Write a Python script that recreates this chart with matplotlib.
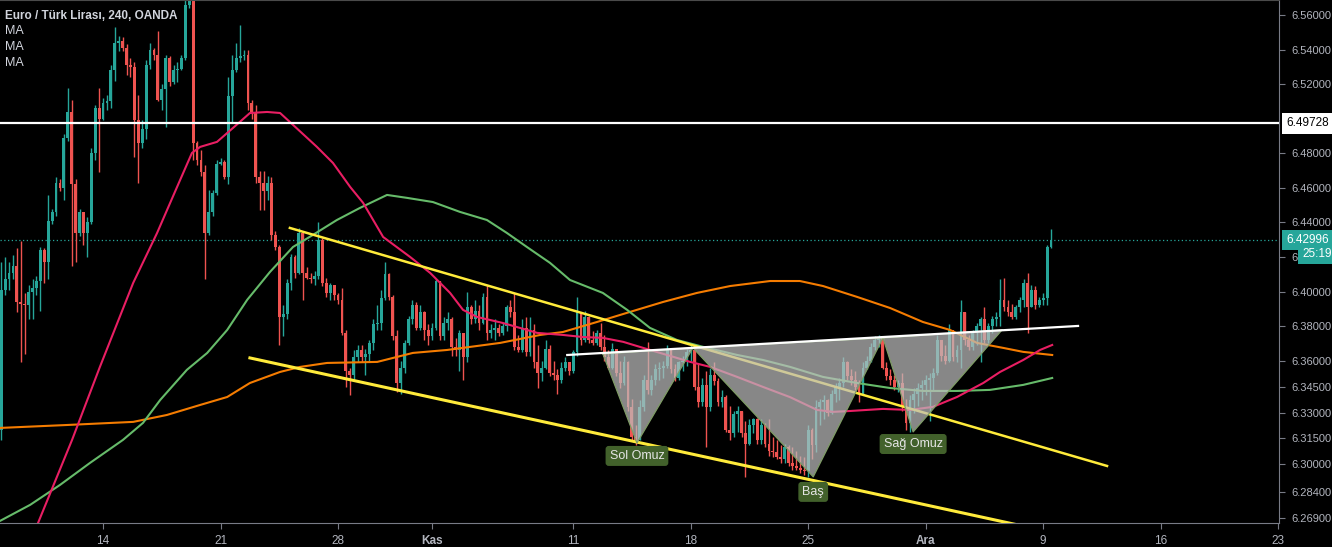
import matplotlib
matplotlib.use('Agg')
import matplotlib.pyplot as plt
from matplotlib.patches import Polygon
import numpy as np

plt.rcParams['font.family'] = ['Liberation Sans', 'DejaVu Sans']

# ---------------------------------------------------------------------------
# EUR/TRY 4H candles (index 0 = 14 Oct, 30 candles per week)
# ---------------------------------------------------------------------------
first_index = -26
first_open = 6.320

closes = [
    6.401, 6.407, 6.411, 6.415, 6.394, 6.393, 6.392, 6.400, 6.402, 6.406,
    6.424, 6.417, 6.441, 6.446, 6.463, 6.460, 6.489, 6.504, 6.462, 6.434,
    6.446, 6.434, 6.440, 6.480, 6.506, 6.500, 6.509, 6.510, 6.528, 6.544,
    6.545, 6.541, 6.531, 6.530, 6.499, 6.486, 6.494, 6.531, 6.540, 6.537,
    6.511, 6.517, 6.535, 6.521, 6.528, 6.529, 6.535, 6.566, 6.574, 6.486,
    6.476, 6.469, 6.434, 6.446, 6.457, 6.474, 6.475, 6.466, 6.513, 6.528,
    6.535, 6.536, 6.537, 6.509, 6.504, 6.466, 6.463, 6.458, 6.463, 6.433,
    6.426, 6.385, 6.387, 6.405, 6.420, 6.411, 6.434, 6.411, 6.408, 6.407,
    6.409, 6.430, 6.405, 6.399, 6.404, 6.398, 6.395, 6.376, 6.354, 6.352,
    6.362, 6.366, 6.362, 6.364, 6.370, 6.381, 6.382, 6.396, 6.410, 6.397,
    6.374, 6.347, 6.356, 6.370, 6.384, 6.392, 6.379, 6.388, 6.378, 6.374,
    6.379, 6.406, 6.374, 6.382, 6.384, 6.368, 6.366, 6.376, 6.362, 6.391,
    6.384, 6.389, 6.382, 6.397, 6.376, 6.378, 6.379, 6.376, 6.380, 6.391,
    6.388, 6.368, 6.366, 6.379, 6.365, 6.378, 6.359, 6.353, 6.356, 6.367,
    6.353, 6.352, 6.349, 6.356, 6.359, 6.354, 6.365, 6.388, 6.372, 6.385,
    6.372, 6.370, 6.376, 6.368, 6.362, 6.356, 6.367, 6.353, 6.347, 6.359,
    6.333, 6.316, 6.314, 6.333, 6.349, 6.343, 6.349, 6.355, 6.356, 6.357,
    6.366, 6.355, 6.350, 6.359, 6.360, 6.365, 6.366, 6.345, 6.336, 6.346,
    6.333, 6.352, 6.348, 6.336, 6.339, 6.320, 6.318, 6.329, 6.331, 6.318,
    6.312, 6.323, 6.326, 6.314, 6.323, 6.312, 6.308, 6.307, 6.304, 6.303,
    6.310, 6.301, 6.299, 6.298, 6.297, 6.296, 6.320, 6.311, 6.333, 6.336,
    6.337, 6.330, 6.341, 6.345, 6.347, 6.359, 6.351, 6.349, 6.345, 6.341,
    6.356, 6.360, 6.368, 6.372, 6.373, 6.356, 6.351, 6.349, 6.345, 6.347,
    6.333, 6.324, 6.337, 6.341, 6.344, 6.346, 6.349, 6.350, 6.353, 6.372,
    6.363, 6.360, 6.378, 6.362, 6.366, 6.388, 6.372, 6.368, 6.376, 6.380,
    6.384, 6.372, 6.380, 6.384, 6.385, 6.395, 6.391, 6.388, 6.385, 6.391,
    6.395, 6.405, 6.391, 6.401, 6.392, 6.395, 6.396, 6.426, 6.42996,
]

highs = [
    6.417, 6.420, 6.417, 6.421, 6.425, 6.429, 6.399, 6.404, 6.407, 6.409,
    6.426, 6.425, 6.456, 6.448, 6.466, 6.465, 6.491, 6.518, 6.511, 6.465,
    6.448, 6.444, 6.443, 6.483, 6.508, 6.518, 6.512, 6.514, 6.531, 6.553,
    6.548, 6.547, 6.543, 6.535, 6.533, 6.514, 6.499, 6.534, 6.544, 6.541,
    6.551, 6.520, 6.537, 6.536, 6.531, 6.533, 6.537, 6.574, 6.586, 6.576,
    6.487, 6.482, 6.473, 6.459, 6.459, 6.476, 6.477, 6.476, 6.524, 6.537,
    6.544, 6.554, 6.540, 6.540, 6.511, 6.508, 6.470, 6.470, 6.467, 6.466,
    6.435, 6.427, 6.392, 6.407, 6.422, 6.421, 6.437, 6.430, 6.414, 6.411,
    6.412, 6.440, 6.431, 6.408, 6.405, 6.404, 6.399, 6.402, 6.378, 6.356,
    6.366, 6.369, 6.369, 6.367, 6.372, 6.384, 6.392, 6.401, 6.417, 6.411,
    6.398, 6.378, 6.360, 6.372, 6.386, 6.395, 6.394, 6.392, 6.389, 6.381,
    6.382, 6.407, 6.406, 6.385, 6.388, 6.385, 6.373, 6.378, 6.376, 6.400,
    6.392, 6.395, 6.392, 6.399, 6.404, 6.381, 6.384, 6.381, 6.382, 6.392,
    6.395, 6.399, 6.375, 6.384, 6.385, 6.385, 6.381, 6.369, 6.360, 6.372,
    6.369, 6.360, 6.355, 6.359, 6.362, 6.359, 6.366, 6.397, 6.388, 6.389,
    6.386, 6.377, 6.378, 6.382, 6.375, 6.366, 6.370, 6.367, 6.360, 6.363,
    6.360, 6.338, 6.323, 6.337, 6.352, 6.371, 6.352, 6.358, 6.359, 6.360,
    6.369, 6.367, 6.358, 6.360, 6.363, 6.367, 6.369, 6.367, 6.358, 6.350,
    6.354, 6.356, 6.359, 6.350, 6.343, 6.340, 6.334, 6.331, 6.334, 6.329,
    6.325, 6.326, 6.327, 6.327, 6.326, 6.324, 6.326, 6.316, 6.314, 6.311,
    6.312, 6.311, 6.310, 6.308, 6.305, 6.304, 6.323, 6.321, 6.337, 6.338,
    6.340, 6.338, 6.343, 6.347, 6.350, 6.362, 6.360, 6.355, 6.354, 6.349,
    6.359, 6.363, 6.370, 6.374, 6.375, 6.374, 6.359, 6.355, 6.352, 6.349,
    6.353, 6.338, 6.340, 6.344, 6.347, 6.349, 6.352, 6.353, 6.356, 6.375,
    6.372, 6.369, 6.381, 6.377, 6.369, 6.395, 6.388, 6.375, 6.378, 6.382,
    6.385, 6.391, 6.382, 6.386, 6.388, 6.407, 6.408, 6.395, 6.393, 6.392,
    6.397, 6.407, 6.411, 6.404, 6.403, 6.397, 6.399, 6.427, 6.436,
]

lows = [
    6.314, 6.398, 6.401, 6.407, 6.388, 6.359, 6.364, 6.384, 6.384, 6.398,
    6.389, 6.405, 6.407, 6.439, 6.444, 6.458, 6.453, 6.487, 6.415, 6.417,
    6.432, 6.427, 6.420, 6.439, 6.476, 6.469, 6.499, 6.505, 6.506, 6.522,
    6.539, 6.539, 6.525, 6.524, 6.478, 6.463, 6.483, 6.488, 6.529, 6.534,
    6.510, 6.505, 6.495, 6.519, 6.520, 6.521, 6.528, 6.534, 6.564, 6.476,
    6.473, 6.467, 6.407, 6.433, 6.444, 6.456, 6.473, 6.465, 6.462, 6.498,
    6.527, 6.533, 6.534, 6.505, 6.500, 6.463, 6.447, 6.447, 6.453, 6.430,
    6.424, 6.369, 6.374, 6.384, 6.401, 6.408, 6.410, 6.395, 6.407, 6.405,
    6.404, 6.407, 6.403, 6.397, 6.395, 6.395, 6.393, 6.375, 6.345, 6.340,
    6.349, 6.359, 6.359, 6.352, 6.360, 6.366, 6.378, 6.378, 6.395, 6.395,
    6.372, 6.342, 6.341, 6.353, 6.369, 6.381, 6.378, 6.378, 6.372, 6.369,
    6.372, 6.378, 6.372, 6.372, 6.378, 6.363, 6.363, 6.354, 6.349, 6.359,
    6.381, 6.382, 6.378, 6.381, 6.372, 6.373, 6.372, 6.374, 6.375, 6.377,
    6.385, 6.366, 6.365, 6.365, 6.363, 6.363, 6.356, 6.344, 6.348, 6.355,
    6.351, 6.349, 6.341, 6.347, 6.354, 6.352, 6.353, 6.363, 6.369, 6.371,
    6.370, 6.369, 6.369, 6.366, 6.360, 6.355, 6.355, 6.351, 6.344, 6.346,
    6.331, 6.314, 6.311, 6.314, 6.331, 6.341, 6.340, 6.346, 6.349, 6.350,
    6.356, 6.353, 6.348, 6.349, 6.354, 6.357, 6.360, 6.343, 6.333, 6.334,
    6.310, 6.331, 6.346, 6.334, 6.333, 6.319, 6.314, 6.316, 6.319, 6.316,
    6.293, 6.311, 6.318, 6.312, 6.312, 6.310, 6.305, 6.304, 6.303, 6.301,
    6.301, 6.299, 6.297, 6.297, 6.295, 6.294, 6.293, 6.303, 6.307, 6.323,
    6.326, 6.328, 6.329, 6.336, 6.337, 6.345, 6.349, 6.346, 6.343, 6.336,
    6.340, 6.355, 6.359, 6.366, 6.368, 6.355, 6.349, 6.346, 6.343, 6.342,
    6.331, 6.320, 6.319, 6.330, 6.334, 6.337, 6.340, 6.325, 6.343, 6.352,
    6.360, 6.358, 6.359, 6.360, 6.359, 6.356, 6.369, 6.366, 6.366, 6.369,
    6.359, 6.370, 6.370, 6.376, 6.380, 6.380, 6.389, 6.386, 6.384, 6.384,
    6.388, 6.391, 6.376, 6.391, 6.390, 6.391, 6.392, 6.392, 6.425,
]

# moving averages (candle index, price)
ma_fast_idx = [-17.1, -7.9, -0.8, 7.7, 13.8, 18.9, 22.7, 24.8, 29.1, 33.2, 37.5, 41.9, 45.2,
               47.7, 54.6, 58.7, 63.1, 66.4, 71.5, 78.4, 83.5, 88.6, 91.9, 95.5, 102.1,
               110.8, 117.4, 122.5, 127.6, 132.8, 137.9, 144.0, 149.9, 155.0, 161.9,
               168.5, 175.4, 182.3, 186.4, 190.7, 199.1, 206.0, 211.9, 218.0, 224.7,
               229.0, 234.9, 239.2, 242.3]
ma_fast = [6.2633, 6.3142, 6.3564, 6.4050, 6.4339, 6.4605, 6.4802, 6.4837, 6.4866, 6.4947,
           6.5033, 6.5039, 6.5033, 6.4981, 6.4837, 6.4744, 6.4605, 6.4513, 6.4316, 6.4200,
           6.4108, 6.3992, 6.3894, 6.3853, 6.3818, 6.3761, 6.3749, 6.3737, 6.3732, 6.3709,
           6.3674, 6.3633, 6.3593, 6.3564, 6.3506, 6.3448, 6.3389, 6.3315, 6.3304, 6.3309,
           6.3321, 6.3315, 6.3333, 6.3390, 6.3471, 6.3535, 6.3604, 6.3662, 6.3691]

ma_mid_idx = [-26.3, -18.6, -11.0, -3.3, 5.1, 10.2, 14.6, 21.4, 26.6, 31.7, 36.8, 42.6,
              48.5, 53.6, 59.7, 65.6, 72.5, 77.6, 84.2, 91.1, 98.0, 103.1, 108.2, 114.1,
              119.2, 127.6, 133.8, 139.6, 146.5, 153.2, 161.9, 168.5, 175.4, 183.8, 192.5,
              200.9, 209.3, 218.0, 226.4, 234.9, 242.3]
ma_mid = [6.2673, 6.2766, 6.2881, 6.3009, 6.3142, 6.3240, 6.3373, 6.3547, 6.3645, 6.3778,
          6.3952, 6.4113, 6.4258, 6.4328, 6.4414, 6.4484, 6.4559, 6.4542, 6.4518, 6.4461,
          6.4414, 6.4339, 6.4258, 6.4166, 6.4067, 6.3992, 6.3894, 6.3790, 6.3720, 6.3680,
          6.3633, 6.3604, 6.3564, 6.3506, 6.3471, 6.3442, 6.3425, 6.3425, 6.3431, 6.3460,
          6.3500]

ma_slow_idx = [-26.3, -9.2, 7.7, 16.3, 24.8, 31.7, 37.5, 45.2, 50.3, 57.2, 70.0, 79.1,
               87.8, 101.4, 111.6, 117.4, 126.1, 134.5, 143.0, 151.6, 160.1, 170.3, 177.9,
               183.8, 192.5, 200.9, 209.3, 216.2, 223.1, 229.8, 234.9, 242.3]
ma_slow = [6.3211, 6.3228, 6.3246, 6.3286, 6.3344, 6.3390, 6.3471, 6.3535, 6.3564, 6.3587,
           6.3593, 6.3645, 6.3662, 6.3703, 6.3749, 6.3766, 6.3824, 6.3882, 6.3940, 6.3992,
           6.4032, 6.4061, 6.4061, 6.4032, 6.3969, 6.3905, 6.3824, 6.3778, 6.3703, 6.3674,
           6.3651, 6.3633]

# drawings
channel_upper = ([47.7, 256.3], [6.4368, 6.2991])
channel_lower = ([37.5, 234.1], [6.3616, 6.2647])
neckline = ([118.5, 248.9], [6.3633, 6.3801])
resistance = 6.49728
last_price = 6.42996
countdown = '25:19'

hs_idx = [127.6, 136.3, 150.6, 181.3, 199.1, 206.8, 229.5]
hs_price = [6.3639, 6.3124, 6.3674, 6.2928, 6.3732, 6.3188, 6.3778]
hs_labels = [('Sol Omuz', 136.3, 6.3049), ('Baş', 181.3, 6.2841), ('Sağ Omuz', 206.8, 6.3118)]

tick_pos = [0, 30, 60, 84, 120, 150, 180, 210, 240, 270, 300]
tick_lab = ['14', '21', '28', 'Kas', '11', '18', '25', 'Ara', '9', '16', '23']
price_ticks = [6.56, 6.54, 6.52, 6.48, 6.46, 6.44, 6.42, 6.40, 6.38, 6.36,
               6.345, 6.33, 6.315, 6.30, 6.284, 6.269]

# ---------------------------------------------------------------------------
UP = '#26a69a'
DOWN = '#ef5350'
AXIS = '#787b86'
TXT = '#b2b5be'

fig = plt.figure(figsize=(13.32, 5.47), dpi=100, facecolor='black')
ax = fig.add_axes([0, 24 / 547, 1279 / 1332, 523 / 547])
ax.set_facecolor('black')
ax.set_xlim(-26.3, 300.2)
ax.set_ylim(6.2661, 6.56868)

c = np.array(closes)
h = np.array(highs)
l = np.array(lows)
o = np.array([first_open] + closes[:-1])
x = np.arange(first_index, first_index + len(c))
up = c >= o
cols = np.where(up, UP, DOWN)

ax.vlines(x, np.minimum(l, np.minimum(o, c)), np.maximum(h, np.maximum(o, c)),
          colors=cols, linewidth=1, zorder=2)
body_h = np.maximum(np.abs(c - o), 0.0004)
ax.bar(x, body_h, bottom=np.minimum(o, c), width=0.72, color=cols, linewidth=0, zorder=2)

# last price dotted line
ax.axhline(last_price, color=UP, lw=0.9, ls=(0, (1, 2)), zorder=1.5)

# moving averages
ax.plot(ma_slow_idx, ma_slow, color='#f57c00', lw=1.5, zorder=3)
ax.plot(ma_mid_idx, ma_mid, color='#66bb6a', lw=1.5, zorder=3)
ax.plot(ma_fast_idx, ma_fast, color='#e91e63', lw=1.5, zorder=3)

# horizontal resistance
ax.axhline(resistance, color='white', lw=1.6, zorder=3.5)

# channel
ax.plot(*channel_upper, color='#ffeb3b', lw=1.8, zorder=4)
ax.plot(*channel_lower, color='#ffeb3b', lw=2.2, zorder=4)

# inverse head & shoulders
for k in (0, 2, 4):
    tri = Polygon(list(zip(hs_idx[k:k + 3], hs_price[k:k + 3])), closed=True,
                  facecolor='#bdbdbd', alpha=0.72, edgecolor='none', zorder=5)
    ax.add_patch(tri)
ax.plot(hs_idx, hs_price, color='#7f9c66', lw=0.9, zorder=5.5)
ax.plot(hs_idx[::2], hs_price[::2], color='#a9c296', lw=0.9, zorder=5.5)
ax.plot(*neckline, color='white', lw=1.6, zorder=5.6)

for txt, xi, yi in hs_labels:
    ax.text(xi, yi, txt, ha='center', va='center', fontsize=9, color='#e6e6e6', zorder=7,
            bbox=dict(boxstyle='round,pad=0.32,rounding_size=0.25', fc='#42612b', ec='none'))

# axes styling
ax.spines['left'].set_visible(False)
ax.spines['top'].set_color('#4a4a4a')
ax.spines['right'].set_color(AXIS)
ax.spines['bottom'].set_color(AXIS)

ax.yaxis.tick_right()
ax.set_yticks(price_ticks)
# 6.42000 is mostly hidden behind the countdown tag, only its leading "6" shows
ax.set_yticklabels(['6' if v == 6.42 else f'{v:.5f}' for v in price_ticks])
ax.tick_params(axis='y', colors=AXIS, labelcolor=TXT, labelsize=8, length=4, pad=5)
ax.set_xticks(tick_pos)
ax.set_xticklabels(tick_lab)
ax.tick_params(axis='x', colors=AXIS, labelcolor=TXT, labelsize=8.5, length=4, pad=5)
for lab in ax.get_xticklabels():
    if lab.get_text() in ('Kas', 'Ara'):
        lab.set_fontweight('bold')

# price scale tags
ytr = ax.get_yaxis_transform()
ax.text(1.0 + 7 / 1279, resistance, f'{resistance:.5f}', transform=ytr, ha='left', va='center',
        fontsize=8.5, color='black', clip_on=False, zorder=10,
        bbox=dict(boxstyle='square,pad=0.35', fc='white', ec='none'))
ax.text(1.0 + 7 / 1279, last_price, f'{last_price:.5f}', transform=ytr, ha='left', va='center',
        fontsize=8.5, color='white', clip_on=False, zorder=10,
        bbox=dict(boxstyle='square,pad=0.35', fc=UP, ec='none'))
ax.text(1.0 + 23 / 1279, 6.4215, countdown, transform=ytr, ha='left', va='center',
        fontsize=8.5, color='white', clip_on=False, zorder=10,
        bbox=dict(boxstyle='square,pad=0.3', fc=UP, ec='none'))

# legend header
fig.text(5 / 1332, 1 - 16 / 547, 'Euro / Türk Lirası, 240, OANDA', fontsize=8.5, fontweight='bold',
         color='#d1d4dc', va='center', ha='left')
for i in range(3):
    fig.text(5 / 1332, 1 - (31 + 16 * i) / 547, 'MA', fontsize=9, color='#d1d4dc',
             va='center', ha='left')

fig.savefig('out.png', dpi=100, facecolor='black')
